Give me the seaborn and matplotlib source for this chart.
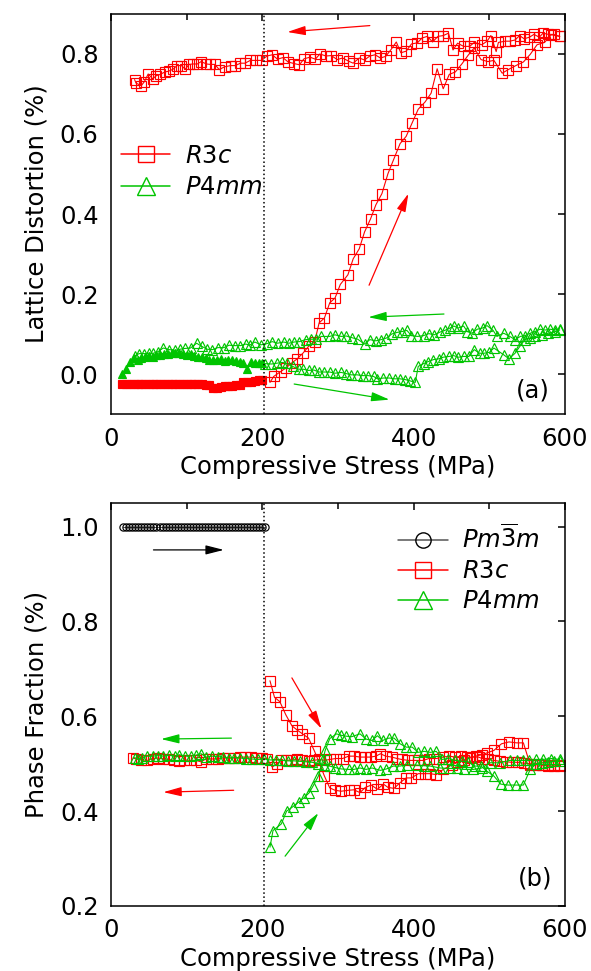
import matplotlib
matplotlib.use('Agg')
import matplotlib.pyplot as plt
import seaborn as sns
from matplotlib.lines import Line2D

RED = '#ff0000'
GREEN = '#00c400'
FS = 17.5

# ---------------- (a) lattice distortion ----------------
# 0-200 MPa (filled symbols)
a_low_x = [15, 20, 25, 30, 35, 40, 45, 50, 55, 60, 65, 70, 75, 80, 85, 90, 95, 100, 105, 110,
           115, 120, 125, 130, 135, 140, 145, 150, 155, 160, 165, 170, 175, 180, 185, 190, 195, 200]
a_r3c_low_y = [-0.024, -0.026, -0.025, -0.024, -0.026, -0.025, -0.024, -0.025, -0.026, -0.024,
               -0.025, -0.024, -0.026, -0.025, -0.024, -0.025, -0.026, -0.025, -0.024, -0.026,
               -0.025, -0.026, -0.027, -0.027, -0.035, -0.036, -0.033, -0.031, -0.030, -0.029,
               -0.028, -0.027, -0.021, -0.020, -0.019, -0.017, -0.016, -0.015]
a_p4_low_y = [0.000, 0.012, 0.030, 0.040, 0.036, 0.040, 0.042, 0.045, 0.043, 0.047,
              0.048, 0.050, 0.051, 0.052, 0.053, 0.052, 0.050, 0.048, 0.050, 0.046,
              0.043, 0.042, 0.040, 0.036, 0.034, 0.036, 0.037, 0.033, 0.034, 0.035,
              0.032, 0.030, 0.028, 0.013, 0.030, 0.028, 0.027, 0.027]

# R3c loading
a_r3c_load_x = [210, 215, 224, 231, 239, 246, 254, 261, 269, 275,
                282, 289, 296, 303, 313, 320, 328, 335, 343, 350,
                358, 366, 373, 382, 390, 398, 406, 415, 423, 431,
                439, 447, 455, 464, 472, 480, 489, 498, 506, 517,
                525, 535, 545, 554, 563, 573, 582, 593]
a_r3c_load_y = [-0.021, -0.006, 0.006, 0.015, 0.028, 0.038, 0.053, 0.069, 0.080, 0.128,
                0.140, 0.178, 0.190, 0.224, 0.248, 0.288, 0.313, 0.355, 0.388, 0.423,
                0.451, 0.501, 0.534, 0.576, 0.594, 0.628, 0.662, 0.680, 0.702, 0.763,
                0.713, 0.749, 0.755, 0.776, 0.797, 0.815, 0.786, 0.781, 0.784, 0.752,
                0.761, 0.771, 0.780, 0.799, 0.823, 0.829, 0.848, 0.844]

# R3c unloading
a_r3c_unload_x = [593, 585, 578, 571, 566, 559, 553, 546, 540, 534,
                  527, 521, 512, 509, 502, 497, 490, 480, 474, 466,
                  458, 452, 446, 439, 432, 425, 418, 411, 405, 397,
                  390, 383, 377, 370, 363, 356, 349, 342, 335, 328,
                  320, 314, 306, 299, 291, 284, 276, 270, 263, 255,
                  249, 242, 234, 227, 220, 213, 206, 199, 191, 184,
                  177, 171, 164, 158, 150, 143, 137, 131, 126, 119,
                  114, 108, 103, 98, 93, 87, 82, 76, 71, 65,
                  60, 55, 49, 44, 40, 33, 31]
a_r3c_unload_y = [0.844, 0.849, 0.849, 0.852, 0.842, 0.849, 0.842, 0.838, 0.846, 0.835,
                  0.832, 0.832, 0.829, 0.806, 0.846, 0.832, 0.823, 0.829, 0.819, 0.819,
                  0.827, 0.810, 0.852, 0.846, 0.844, 0.830, 0.844, 0.840, 0.828, 0.825,
                  0.807, 0.803, 0.830, 0.811, 0.794, 0.790, 0.798, 0.795, 0.785, 0.790,
                  0.777, 0.782, 0.790, 0.786, 0.796, 0.795, 0.800, 0.787, 0.792, 0.788,
                  0.773, 0.776, 0.780, 0.791, 0.787, 0.798, 0.795, 0.784, 0.784, 0.784,
                  0.777, 0.777, 0.771, 0.771, 0.768, 0.761, 0.774, 0.774, 0.775, 0.781,
                  0.775, 0.775, 0.774, 0.762, 0.771, 0.771, 0.762, 0.757, 0.755, 0.749,
                  0.746, 0.738, 0.750, 0.731, 0.721, 0.727, 0.736]

# P4mm loading
a_p4_load_x = [204, 212, 219, 226, 232, 240, 248, 254, 261, 268,
               275, 282, 289, 296, 304, 311, 317, 325, 333, 340,
               347, 352, 360, 368, 375, 382, 389, 395, 402, 406,
               413, 419, 426, 433, 439, 447, 453, 459, 466, 473,
               480, 487, 493, 500, 506, 519, 526, 534, 541, 547,
               554, 561, 569, 578, 587, 593]
a_p4_load_y = [0.026, 0.025, 0.027, 0.029, 0.027, 0.019, 0.012, 0.012, 0.009, 0.010,
               0.005, 0.005, 0.005, 0.002, 0.004, 0.001, -0.002, -0.002, -0.004, -0.004,
               -0.006, -0.012, -0.010, -0.010, -0.012, -0.012, -0.014, -0.017, -0.021, 0.019,
               0.026, 0.031, 0.036, 0.038, 0.042, 0.044, 0.046, 0.042, 0.044, 0.044,
               0.061, 0.052, 0.052, 0.054, 0.065, 0.048, 0.038, 0.052, 0.071, 0.086,
               0.090, 0.094, 0.098, 0.102, 0.106, 0.110]

# P4mm unloading
a_p4_unload_x = [593, 587, 580, 574, 567, 560, 554, 547, 541, 534,
                 527, 519, 510, 505, 497, 491, 484, 477, 471, 466,
                 459, 453, 448, 441, 435, 427, 420, 413, 405, 397,
                 391, 384, 378, 371, 364, 357, 350, 342, 335, 326,
                 318, 311, 304, 296, 289, 278, 271, 264, 257, 249,
                 242, 235, 228, 220, 213, 206, 198, 190, 183, 178,
                 171, 164, 156, 149, 141, 134, 127, 120, 113, 105,
                 98, 91, 85, 77, 69, 62, 56, 50, 44, 37,
                 32]
a_p4_unload_y = [0.113, 0.110, 0.112, 0.110, 0.112, 0.106, 0.102, 0.096, 0.094, 0.086,
                 0.094, 0.102, 0.094, 0.109, 0.121, 0.115, 0.112, 0.102, 0.106, 0.120,
                 0.115, 0.120, 0.115, 0.109, 0.105, 0.098, 0.101, 0.096, 0.094, 0.096,
                 0.109, 0.106, 0.104, 0.100, 0.090, 0.086, 0.083, 0.086, 0.075, 0.087,
                 0.091, 0.095, 0.094, 0.098, 0.094, 0.094, 0.087, 0.087, 0.086, 0.081,
                 0.080, 0.077, 0.080, 0.077, 0.081, 0.076, 0.073, 0.080, 0.072, 0.075,
                 0.071, 0.071, 0.072, 0.066, 0.066, 0.061, 0.062, 0.069, 0.077, 0.065,
                 0.064, 0.062, 0.059, 0.061, 0.065, 0.056, 0.052, 0.052, 0.051, 0.051,
                 0.046]

# ---------------- (b) phase fraction ----------------
b_pm3m_x = [16, 20, 24, 28, 32, 36, 40, 44, 48, 52, 56, 60, 64, 68, 72, 76,
            80, 84, 88, 92, 96, 100, 104, 108, 112, 116, 120, 124, 128, 132, 136, 140,
            144, 148, 152, 156, 160, 164, 168, 172, 176, 180, 184, 188, 192, 196, 200, 203]
b_pm3m_y = [1.0, 1.0, 1.0, 1.0, 1.0, 1.0, 1.0, 1.0, 1.0, 1.0, 1.0, 1.0, 1.0, 1.0, 1.0, 1.0,
            1.0, 1.0, 1.0, 1.0, 1.0, 1.0, 1.0, 1.0, 1.0, 1.0, 1.0, 1.0, 1.0, 1.0, 1.0, 1.0,
            1.0, 1.0, 1.0, 1.0, 1.0, 1.0, 1.0, 1.0, 1.0, 1.0, 1.0, 1.0, 1.0, 1.0, 1.0, 1.0]

b_r3c_load_x = [210, 216, 223, 231, 239, 246, 253, 261, 269, 282,
                289, 296, 304, 314, 321, 329, 336, 344, 352, 360,
                366, 374, 382, 390, 397, 406, 415, 422, 430, 439,
                450, 458, 466, 474, 482, 490, 497, 506, 516, 526,
                536, 545, 554, 562, 570, 578, 586, 594]
b_r3c_load_y = [0.675, 0.640, 0.631, 0.603, 0.580, 0.571, 0.563, 0.554, 0.526, 0.474,
                0.449, 0.444, 0.442, 0.444, 0.445, 0.439, 0.450, 0.455, 0.446, 0.457,
                0.450, 0.448, 0.460, 0.470, 0.470, 0.479, 0.479, 0.479, 0.477, 0.488,
                0.497, 0.503, 0.508, 0.512, 0.516, 0.519, 0.523, 0.528, 0.542, 0.546,
                0.544, 0.544, 0.498, 0.500, 0.498, 0.497, 0.498, 0.496]

b_r3c_unload_x = [594, 586, 578, 570, 562, 554, 546, 538, 530, 522,
                  514, 506, 498, 490, 486, 477, 470, 463, 455, 447,
                  439, 430, 420, 413, 406, 400, 393, 384, 378, 371,
                  363, 356, 350, 343, 336, 329, 321, 314, 306, 297,
                  289, 282, 275, 268, 261, 253, 246, 238, 231, 225,
                  219, 213, 206, 199, 192, 185, 177, 170, 163, 156,
                  148, 141, 134, 126, 119, 112, 104, 97, 90, 83,
                  76, 69, 62, 55, 48, 40, 33, 29]
b_r3c_unload_y = [0.497, 0.495, 0.495, 0.497, 0.498, 0.500, 0.501, 0.503, 0.503, 0.504,
                  0.505, 0.507, 0.509, 0.511, 0.514, 0.514, 0.514, 0.516, 0.514, 0.516,
                  0.514, 0.511, 0.511, 0.507, 0.507, 0.507, 0.507, 0.509, 0.511, 0.514,
                  0.516, 0.521, 0.516, 0.514, 0.514, 0.514, 0.516, 0.516, 0.511, 0.511,
                  0.509, 0.507, 0.509, 0.507, 0.505, 0.507, 0.509, 0.508, 0.507, 0.507,
                  0.500, 0.493, 0.511, 0.512, 0.513, 0.514, 0.514, 0.514, 0.512, 0.512,
                  0.512, 0.511, 0.510, 0.511, 0.504, 0.507, 0.507, 0.508, 0.505, 0.507,
                  0.509, 0.510, 0.512, 0.511, 0.507, 0.508, 0.510, 0.512]

b_p4_load_x = [210, 214, 225, 232, 240, 248, 255, 262, 267, 274,
               280, 283, 289, 298, 304, 311, 318, 329, 337, 345,
               352, 359, 367, 374, 382, 390, 398, 406, 414, 422,
               430, 437, 446, 455, 464, 472, 481, 489, 497, 506,
               515, 525, 535, 545, 554, 562, 570, 578, 586, 594]
b_p4_load_y = [0.324, 0.359, 0.373, 0.400, 0.409, 0.419, 0.428, 0.439, 0.453, 0.474,
               0.509, 0.528, 0.553, 0.563, 0.560, 0.558, 0.557, 0.563, 0.552, 0.549,
               0.559, 0.549, 0.554, 0.554, 0.542, 0.535, 0.535, 0.524, 0.526, 0.524,
               0.526, 0.509, 0.511, 0.507, 0.505, 0.504, 0.495, 0.495, 0.484, 0.474,
               0.457, 0.455, 0.455, 0.455, 0.488, 0.500, 0.502, 0.503, 0.505, 0.505]

b_p4_unload_x = [593, 582, 571, 562, 553, 545, 536, 527, 514, 501,
                 490, 479, 466, 457, 448, 435, 422, 413, 404, 391,
                 382, 373, 364, 356, 345, 337, 329, 321, 314, 304,
                 296, 289, 281, 274, 266, 258, 250, 242, 234, 226,
                 218, 210, 202, 194, 186, 178, 170, 163, 156, 148,
                 141, 134, 126, 119, 112, 105, 98, 90, 84, 77,
                 69, 62, 55, 48, 41, 35, 31]
b_p4_unload_y = [0.509, 0.511, 0.509, 0.509, 0.507, 0.507, 0.507, 0.507, 0.502, 0.502,
                 0.491, 0.488, 0.488, 0.490, 0.490, 0.491, 0.495, 0.496, 0.497, 0.498,
                 0.495, 0.495, 0.489, 0.486, 0.491, 0.488, 0.491, 0.488, 0.488, 0.489,
                 0.492, 0.495, 0.497, 0.500, 0.503, 0.504, 0.505, 0.506, 0.506, 0.507,
                 0.508, 0.508, 0.510, 0.509, 0.510, 0.511, 0.512, 0.513, 0.512, 0.514,
                 0.515, 0.516, 0.514, 0.521, 0.518, 0.516, 0.516, 0.519, 0.516, 0.518,
                 0.516, 0.517, 0.516, 0.516, 0.512, 0.510, 0.513]

# arrows: (tail x, tail y, head x, head y, colour)
a_arrows = [(342, 0.871, 233, 0.855, RED),
            (341, 0.222, 393, 0.451, RED),
            (440, 0.150, 340, 0.142, GREEN),
            (242, -0.025, 368, -0.064, GREEN)]
b_arrows = [(56, 0.951, 149, 0.951, 'black'),
            (239, 0.681, 278, 0.574, RED),
            (159, 0.554, 66, 0.552, GREEN),
            (162, 0.444, 69, 0.440, RED),
            (230, 0.305, 274, 0.396, GREEN)]

sns.set_style('white')
plt.rcParams['font.family'] = ['DejaVu Sans']
plt.rcParams['mathtext.fontset'] = 'dejavusans'
for key in ['text.color', 'axes.labelcolor', 'xtick.color', 'ytick.color']:
    plt.rcParams[key] = 'black'


def draw(ax, x, y, color, marker, ms, filled=False, lc=None):
    sns.lineplot(x=x, y=y, ax=ax, sort=False, estimator=None,
                 color=lc or color, linewidth=0.8, marker=marker, markersize=ms,
                 markerfacecolor=color if filled else 'none',
                 markeredgecolor=color, markeredgewidth=0.85)


def style_axes(ax, ylim, yticks, ylabel):
    ax.set_xlim(0, 600)
    ax.set_ylim(*ylim)
    ax.set_xticks([0, 200, 400, 600])
    ax.set_xticks([100, 300, 500], minor=True)
    ax.set_yticks(yticks)
    ax.set_yticklabels([f'{v:.1f}' for v in yticks])
    ax.tick_params(which='both', direction='in', top=True, right=True,
                   width=1.1, labelsize=FS, pad=9, colors='black')
    ax.tick_params(which='major', length=5)
    ax.tick_params(which='minor', length=4)
    for sp in ax.spines.values():
        sp.set_linewidth(1.1)
        sp.set_color('black')
    ax.set_xlabel('Compressive Stress (MPa)', fontsize=FS, labelpad=3, color='black')
    ax.set_ylabel(ylabel, fontsize=FS, labelpad=8, color='black')
    ax.axvline(202, color='black', ls=':', lw=1.1)


def add_arrows(ax, arrows):
    for x0, y0, x1, y1, c in arrows:
        ax.annotate('', xy=(x1, y1), xytext=(x0, y0),
                    arrowprops=dict(arrowstyle='-|>,head_length=0.55,head_width=0.14',
                                    color=c, lw=0.9, mutation_scale=20,
                                    shrinkA=0, shrinkB=0))


fig = plt.figure(figsize=(5.91, 9.71), dpi=100)
ax1 = fig.add_axes([0.188, 0.5736, 0.768, 0.412])
ax2 = fig.add_axes([0.188, 0.0670, 0.768, 0.415])

# panel (a)
draw(ax1, a_low_x, a_r3c_low_y, RED, 's', 5.8, filled=True)
draw(ax1, a_low_x, a_p4_low_y, GREEN, '^', 6.3, filled=True)
draw(ax1, a_r3c_load_x, a_r3c_load_y, RED, 's', 6.9)
draw(ax1, a_r3c_unload_x, a_r3c_unload_y, RED, 's', 6.9)
draw(ax1, a_p4_load_x, a_p4_load_y, GREEN, '^', 6.8)
draw(ax1, a_p4_unload_x, a_p4_unload_y, GREEN, '^', 6.8)
style_axes(ax1, (-0.1, 0.9), [0.0, 0.2, 0.4, 0.6, 0.8], 'Lattice Distortion (%)')
add_arrows(ax1, a_arrows)
ax1.text(0.967, 0.06, '(a)', transform=ax1.transAxes, ha='right', va='center', fontsize=FS)

h_a = [Line2D([], [], color=RED, lw=1.1, marker='s', ms=11.5, mfc='none', mec=RED, mew=1.0),
       Line2D([], [], color=GREEN, lw=1.1, marker='^', ms=13, mfc='none', mec=GREEN, mew=1.0)]
ax1.legend(h_a, [r'$R3c$', r'$P4mm$'], loc='upper left', bbox_to_anchor=(0.021, 0.675),
           frameon=False, fontsize=FS, handlelength=2.05, handletextpad=0.6,
           labelspacing=0.3, borderpad=0, borderaxespad=0)

# panel (b)
draw(ax2, b_pm3m_x, b_pm3m_y, 'black', 'o', 5.2, lc='#555555')
draw(ax2, b_r3c_load_x, b_r3c_load_y, RED, 's', 6.9)
draw(ax2, b_r3c_unload_x, b_r3c_unload_y, RED, 's', 6.9)
draw(ax2, b_p4_load_x, b_p4_load_y, GREEN, '^', 7.0)
draw(ax2, b_p4_unload_x, b_p4_unload_y, GREEN, '^', 7.0)
style_axes(ax2, (0.2, 1.05), [0.2, 0.4, 0.6, 0.8, 1.0], 'Phase Fraction (%)')
add_arrows(ax2, b_arrows)
ax2.text(0.973, 0.067, '(b)', transform=ax2.transAxes, ha='right', va='center', fontsize=FS)

h_b = [Line2D([], [], color='#555555', lw=1.1, marker='o', ms=11, mfc='none', mec='black', mew=1.0),
       Line2D([], [], color=RED, lw=1.1, marker='s', ms=11, mfc='none', mec=RED, mew=1.0),
       Line2D([], [], color=GREEN, lw=1.1, marker='^', ms=13, mfc='none', mec=GREEN, mew=1.0)]
ax2.legend(h_b, [r'$Pm\overline{3}m$', r'$R3c$', r'$P4mm$'], loc='upper left',
           bbox_to_anchor=(0.632, 0.945), frameon=False, fontsize=FS, handlelength=2.05,
           handletextpad=0.6, labelspacing=0.25, borderpad=0, borderaxespad=0)

fig.savefig('out.png', dpi=100)
